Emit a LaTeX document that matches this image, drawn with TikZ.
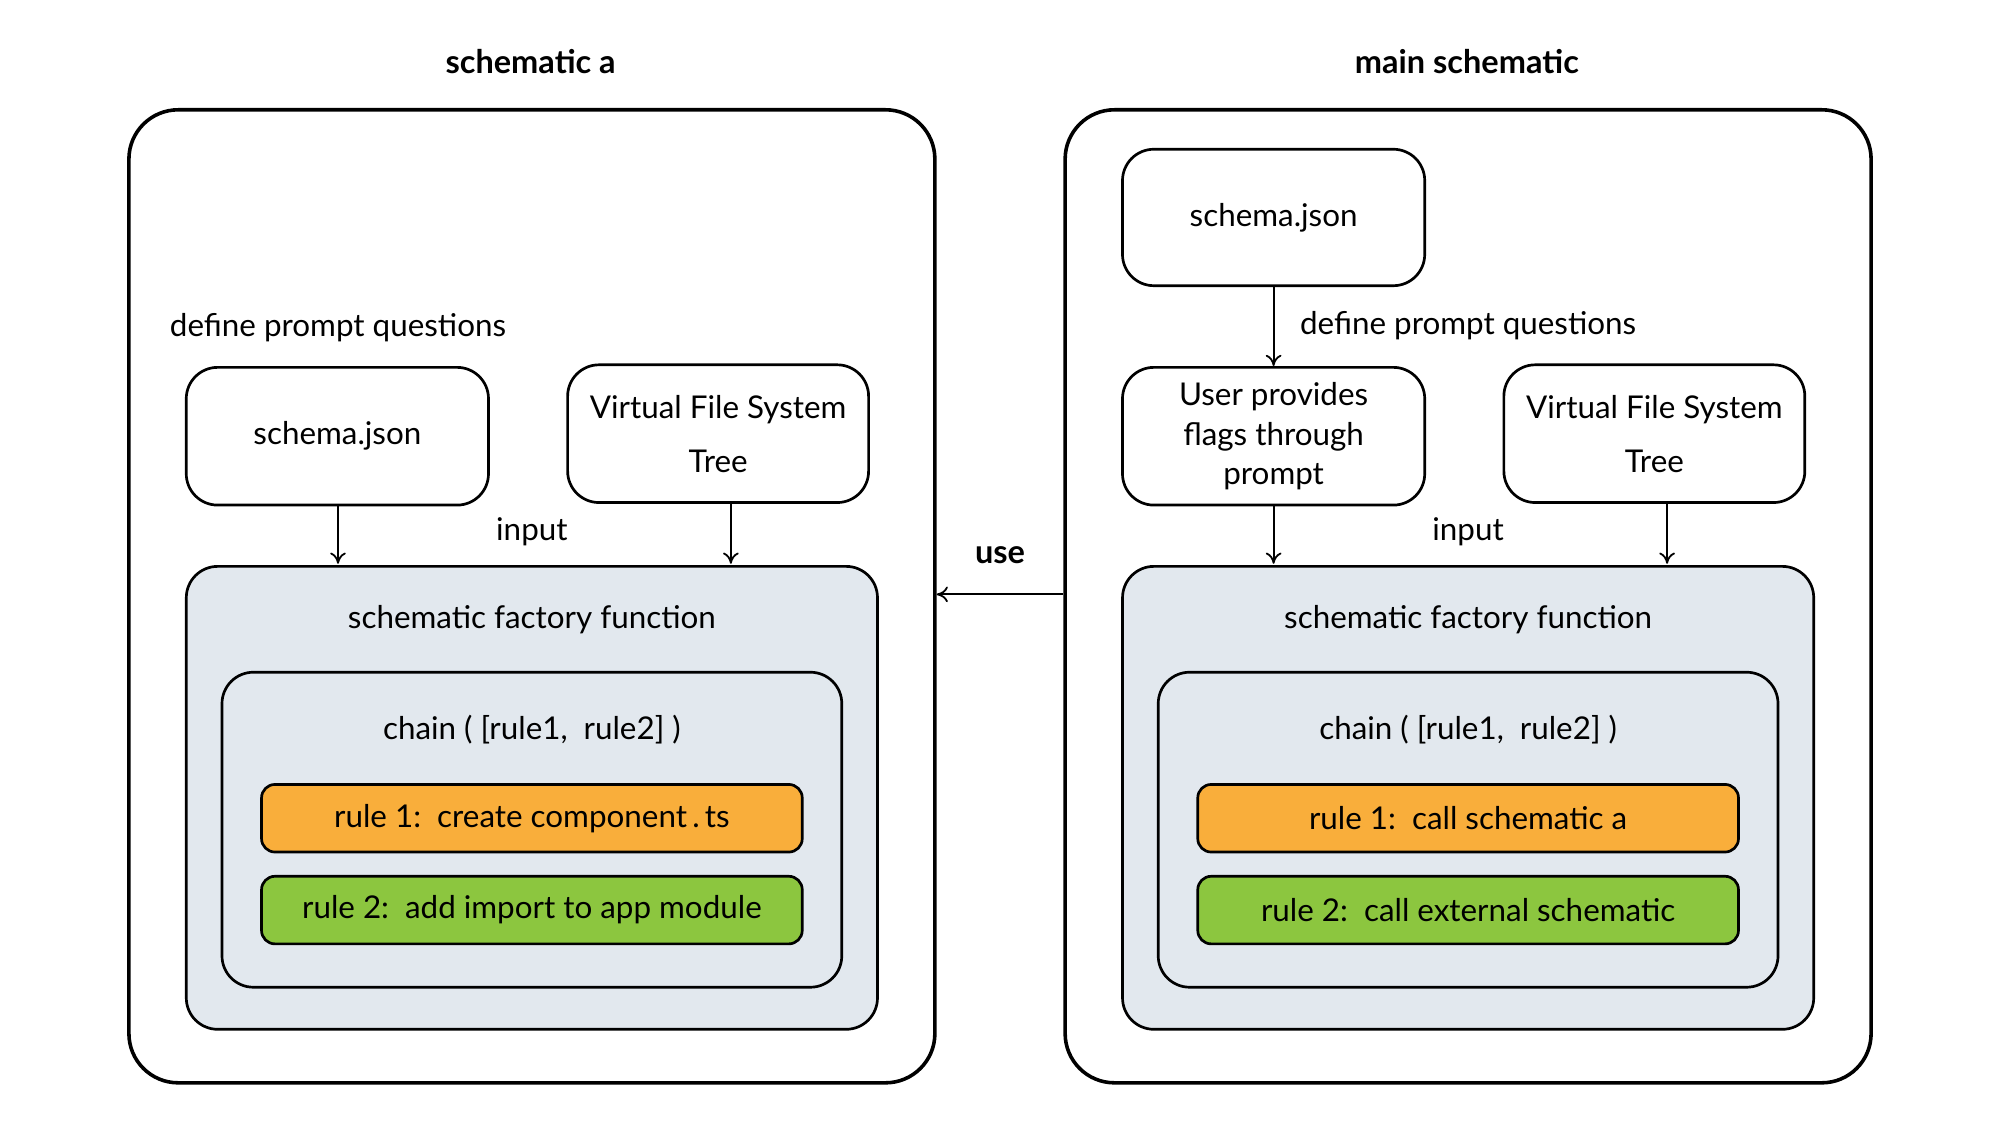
\documentclass[tikz,border=0pt]{standalone}
\usepackage{fontspec}
\setmainfont{Lato}
\usetikzlibrary{arrows.meta}
\definecolor{factorybg}{HTML}{E2E8EE}
\definecolor{ruleone}{HTML}{F9AE3B}
\definecolor{ruletwo}{HTML}{8CC63F}
\tikzset{
  box/.style   = {draw=black, line width=1.2pt, rounded corners=14pt, align=center, inner sep=0pt},
  frame/.style = {box, rounded corners=22pt, line width=1.6pt},
  rule/.style  = {box, rounded corners=6pt, minimum width=8.48cm, minimum height=1.06cm},
  lbl/.style   = {align=center, inner sep=1pt},
  arrow/.style = {line width=0.8pt, -{To[length=5pt,width=7pt]}}
}
\begin{document}
\begin{tikzpicture}[x=0.02cm, y=-0.02cm, font=\fontsize{14}{17.5}\selectfont]
  \useasboundingbox (0,0) rectangle (1568,882);
  % two schematics, left one shifted back
  \foreach \dx/\nm in {0/a, 734/m} {
    \begin{scope}[xshift=\dx*0.02cm]
      \node (outer\nm) [frame, minimum width=12.64cm, minimum height=15.26cm] at (417,467.5) {};
      \node (fac\nm) [box, fill=factorybg, minimum width=10.84cm, minimum height=7.26cm] at (417,625.5) {};
      \node (chain\nm) [box, minimum width=9.72cm, minimum height=4.94cm] at (417,650.5) {};
      \node (vfs\nm) [box, minimum width=4.72cm, minimum height=2.16cm] at (563,340) {};
      \node [lbl] at (563,321) {Virtual File System};
      \node [lbl] at (563,362) {Tree};
      \node [lbl] at (417,417) {input};
      \node [lbl] at (417,486) {schematic factory function};
      \node [lbl] at (417,572) {chain ( [rule1,\ \ rule2] )};
      \draw [arrow] (vfs\nm.south -| 573,0) -- (573,442);
    \end{scope}
  }
  % schematic a
  \node [lbl, font=\fontsize{14.5}{17}\selectfont\bfseries] at (416,48) {schematic a};
  \node [lbl] at (265,257) {define prompt questions};
  \node (schemaa) [box, minimum width=4.74cm, minimum height=2.16cm] at (264.5,342) {schema.json};
  \draw [arrow] (schemaa.south -| 265,0) -- (265,442);
  \node (r1a) [rule, fill=ruleone] at (417,641.5) {rule 1:\ \ create component\,.\,ts};
  \node (r2a) [rule, fill=ruletwo] at (417,713.5) {rule 2:\ \ add import to app module};
  % main schematic
  \node [lbl, font=\fontsize{14.5}{17}\selectfont\bfseries] at (1150,48) {main schematic};
  \node (schemam) [box, minimum width=4.74cm, minimum height=2.14cm] at (998.5,170.5) {schema.json};
  \node (user) [box, minimum width=4.74cm, minimum height=2.16cm] at (998.5,342) {User provides\\flags through\\prompt};
  \node [lbl] at (1151,255) {define prompt questions};
  \draw [arrow] (schemam) -- (user);
  \draw [arrow] (user.south) -- (998.5,442);
  \node (r1m) [rule, fill=ruleone] at (1151,641.5) {rule 1:\ \ call schematic a};
  \node (r2m) [rule, fill=ruletwo] at (1151,713.5) {rule 2:\ \ call external schematic};
  % use
  \coordinate (usea) at (outera.east |- 0,466);
  \draw [arrow] (outerm.west |- usea) -- (usea);
  \node [lbl, font=\fontsize{14.5}{17}\selectfont\bfseries] at (784,435) {use};
\end{tikzpicture}
\end{document}
